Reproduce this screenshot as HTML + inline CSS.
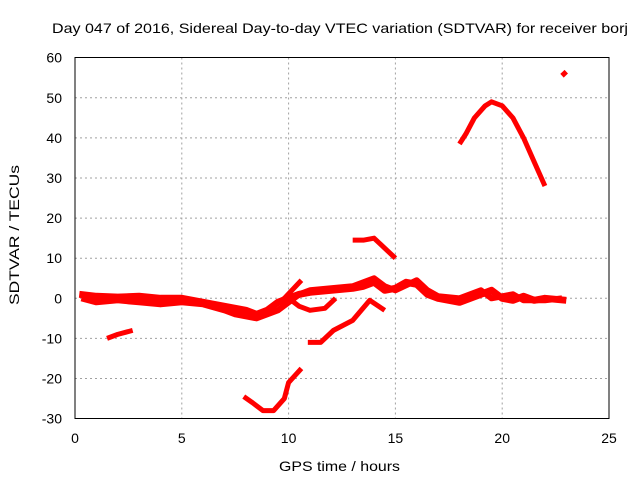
<!DOCTYPE html>
<html><head><meta charset="utf-8"><style>
body{margin:0;background:#fff}
svg{font-family:"Liberation Sans",sans-serif;font-size:14px}
</style></head><body>
<svg id="chart" width="640" height="480">
<rect width="640" height="480" fill="#fff"/>
<g id="grid"></g><g id="series"></g>
<rect x="75" y="57.5" width="534" height="361" fill="none" stroke="#000" stroke-width="1"/>
<g id="ticks"></g>
<text x="52" y="33" textLength="576" lengthAdjust="spacingAndGlyphs">Day 047 of 2016, Sidereal Day-to-day VTEC variation (SDTVAR) for receiver borj</text>
<text x="279" y="471" textLength="121" lengthAdjust="spacingAndGlyphs">GPS time / hours</text>
<text transform="translate(19,305) rotate(-90)" textLength="140" lengthAdjust="spacingAndGlyphs">SDTVAR / TECUs</text>
</svg>
<script>
const xTicks=[0,5,10,15,20,25];
const yTicks=[-30,-20,-10,0,10,20,30,40,50,60];
const segMain=[[0.2,1],[1,0.5],[2,0.3],[3,0.5],[4,0],[5,0],[6,-1],[7,-2],[8,-3],[8.5,-4],[9,-3],[9.5,-1],[10,0],[10.5,1],[11,1.5],[12,2],[13,2.5],[13.5,3],[14,4],[14.5,2],[15,2.5],[15.5,4],[16,3.5],[16.5,1],[17,0],[18,-1],[18.5,0],[19,1],[19.5,2],[20,0],[20.5,-0.5],[21,0.5],[21.5,-0.5],[22,0],[23,-0.5]];
const segLower=[[0.3,0],[1,-1],[2,-0.5],[3,-1],[4,-1.5],[5,-1],[6,-1.5],[7,-3],[7.5,-4],[8.5,-5],[9.5,-3],[10,-1],[10.5,1],[11,2],[12,2.5],[13,3],[14,5],[14.5,3],[15,2],[16,4.5],[16.5,2],[17,0.5],[18,0],[19,2],[19.5,0],[20.5,1],[21,-0.5],[22,-0.5],[22.8,0]];
const segSpike=[[9,-3],[9.8,0],[10.6,4.5]];
const segLoop=[[10,0],[10.5,-2],[11,-3],[11.7,-2.5],[12.2,0]];
const segNeg10=[[1.5,-10],[2,-9],[2.7,-8]];
const segRise=[[10.9,-11],[11.5,-11],[12.1,-8],[13,-5.5],[13.8,-0.5],[14.5,-3]];
const segVee=[[7.9,-24.5],[8.3,-26],[8.8,-28],[9.3,-28],[9.8,-25],[10,-21],[10.6,-17.5]];
const segBump=[[13,14.5],[13.5,14.5],[14,15],[14.5,12.5],[15,10]];
const segArc=[[18,38.5],[18.3,41],[18.7,45],[19.2,48],[19.5,49],[20,48],[20.5,45],[21,40],[21.5,34],[22,28]];
const segDot=[[22.8,55.5],[23,56.5]];
const segments=[segMain,segLower,segSpike,segLoop,segNeg10,segRise,segVee,segBump,segArc,segDot];
const widths=[7,6,5,5,5,5,5,5,5,5];
const X=v=>75+v*21.36, Y=v=>298.3-v*4.01;
const NS='http://www.w3.org/2000/svg';
const g=document.getElementById('grid'),t=document.getElementById('ticks'),s=document.getElementById('series');
xTicks.forEach(v=>{
 const l=document.createElementNS(NS,'line');
 l.setAttribute('x1',X(v));l.setAttribute('x2',X(v));l.setAttribute('y1',57.5);l.setAttribute('y2',418.5);
 l.setAttribute('stroke',v>0&&v<25?'#a0a0a0':'none');l.setAttribute('stroke-dasharray','2,3');
 
 
 g.appendChild(l);
 const k=document.createElementNS(NS,'text');
 k.setAttribute('x',X(v));k.setAttribute('y',443);k.setAttribute('text-anchor','middle');k.textContent=v;
 
 
 t.appendChild(k);
});
yTicks.forEach(v=>{
 const l=document.createElementNS(NS,'line');
 l.setAttribute('x1',75);l.setAttribute('x2',609);l.setAttribute('y1',Y(v));l.setAttribute('y2',Y(v));
 l.setAttribute('stroke',v>-30&&v<60?'#a0a0a0':'none');l.setAttribute('stroke-dasharray','2,3');
 
 
 g.appendChild(l);
 const k=document.createElementNS(NS,'text');
 k.setAttribute('x',62);k.setAttribute('y',Y(v)+5);k.setAttribute('text-anchor','end');k.textContent=v;
 
 
 t.appendChild(k);
});
segments.forEach((seg,i)=>{
 const p=document.createElementNS(NS,'polyline');
 p.setAttribute('points',seg.map(d=>X(d[0])+','+Y(d[1])).join(' '));
 p.setAttribute('fill','none');p.setAttribute('stroke','#ff0000');p.setAttribute('stroke-width',widths[i]);
 p.setAttribute('stroke-linejoin','round');
 
 
 s.appendChild(p);
});
</script>
</body></html>
